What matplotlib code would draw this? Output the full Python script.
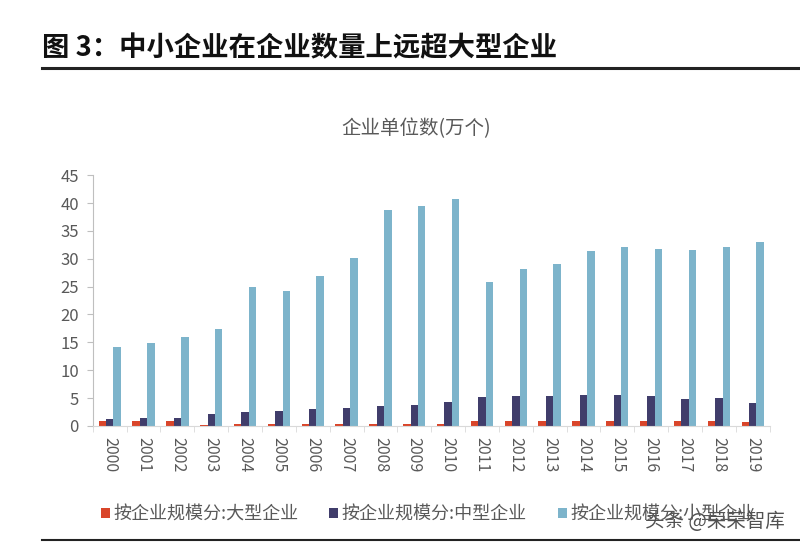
import matplotlib
matplotlib.use("Agg")
import matplotlib.pyplot as plt
import numpy as np

plt.rcParams['font.family'] = ['Noto Sans CJK SC', 'DejaVu Sans']

years = [str(y) for y in range(2000, 2020)]
large = [0.8, 0.8, 0.8, 0.2, 0.25, 0.25, 0.25, 0.3, 0.3, 0.3, 0.35, 0.8, 0.8, 0.8, 0.9, 0.85, 0.8, 0.8, 0.8, 0.75]
medium = [1.3, 1.4, 1.45, 2.05, 2.5, 2.7, 3.0, 3.3, 3.6, 3.75, 4.3, 5.2, 5.35, 5.4, 5.6, 5.5, 5.3, 4.9, 4.95, 4.1]
small = [14.2, 14.9, 16.0, 17.4, 25.0, 24.3, 27.0, 30.2, 38.7, 39.4, 40.8, 25.8, 28.2, 29.1, 31.4, 32.1, 31.8, 31.6, 32.1, 33.1]
series_names = ['按企业规模分:大型企业', '按企业规模分:中型企业', '按企业规模分:小型企业']
colors = ['#D9452A', '#403D6B', '#7DB4CB']
yticks = [0, 5, 10, 15, 20, 25, 30, 35, 40, 45]

fig = plt.figure(figsize=(8, 5.46), dpi=100)
fig.patch.set_facecolor('white')

ax = fig.add_axes([0.116, 0.22, 0.846, 0.459])
x = np.arange(len(years))
w = 0.22
for i, (vals, c, name) in enumerate(zip([large, medium, small], colors, series_names)):
    ax.bar(x + (i - 1) * w, vals, width=w, color=c, label=name, zorder=2)

ax.set_xlim(-0.5, len(years) - 0.5)
ax.set_ylim(0, 45)
ax.set_yticks(yticks)
ax.set_yticklabels([str(t) for t in yticks], fontsize=12, color='#595959')
ax.set_xticks(x)
ax.set_xticklabels(years, rotation=-90, fontsize=11.5, color='#595959')
ax.tick_params(axis='x', length=0, pad=8)
ax.tick_params(axis='y', length=4, color='#BFBFBF', width=0.8, pad=6)
ax.set_xticks(np.arange(-0.5, len(years), 1), minor=True)
ax.tick_params(axis='x', which='minor', length=4, color='#D9D9D9', direction='out')
for s in ['top', 'right']:
    ax.spines[s].set_visible(False)
ax.spines['left'].set_color('#BFBFBF')
ax.spines['bottom'].set_color('#D9D9D9')

# titles
fig.text(0.052, 0.912, '图 3：中小企业在企业数量上远超大型企业', fontsize=19.7, fontweight='bold',
         color='#111111', va='center', ha='left')
fig.add_artist(plt.Line2D([0.052, 1.0], [0.875, 0.875], color='#222222', lw=2.2))
fig.text(0.52, 0.765, '企业单位数(万个)', fontsize=14, color='#595959', ha='center', va='center')
fig.add_artist(plt.Line2D([0.052, 1.0], [0.011, 0.011], color='#222222', lw=1.5))

# legend
leg = fig.legend(loc='center', bbox_to_anchor=(0.535, 0.058), ncol=3, frameon=False,
                 fontsize=13, handlelength=0.5, handleheight=0.5, handletextpad=0.2,
                 columnspacing=1.7)
for t in leg.get_texts():
    t.set_color('#595959')

# watermark
fig.text(0.894, 0.044, '头条 @荣荣智库', fontsize=14, color='#333333', ha='center', va='center',
         alpha=0.85)

fig.savefig('out.png', dpi=100, facecolor='white')
